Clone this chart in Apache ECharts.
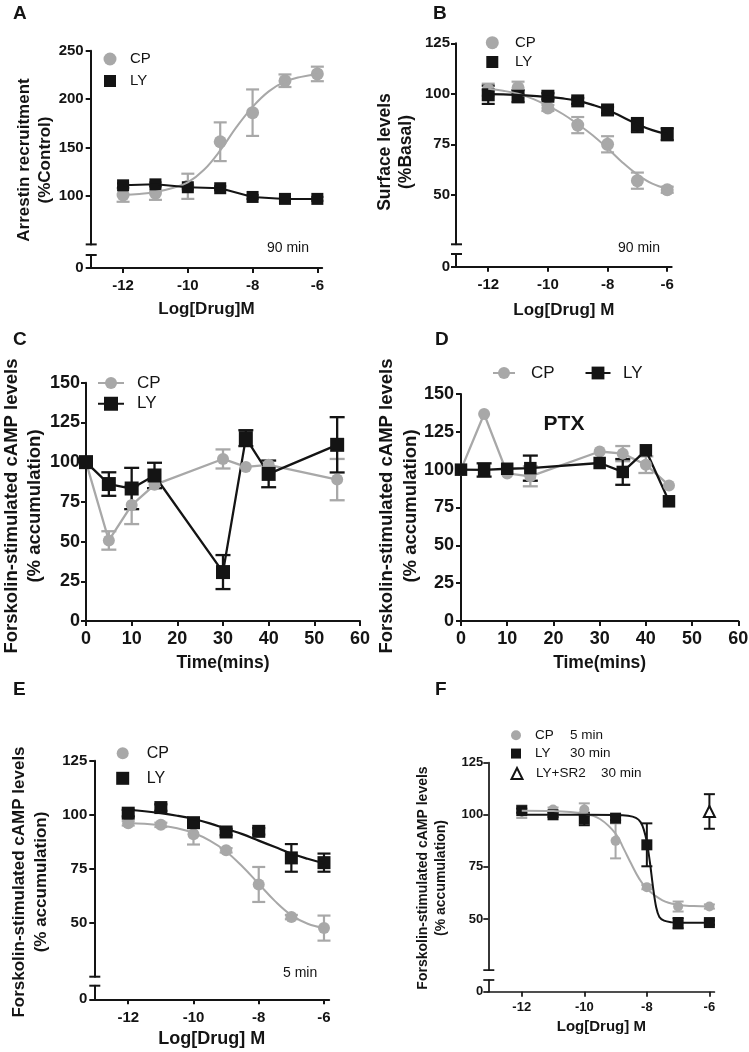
<!DOCTYPE html>
<html><head><meta charset="utf-8">
<script src="https://cdn.jsdelivr.net/npm/echarts@6/dist/echarts.min.js"></script>
<style>html,body{margin:0;padding:0;background:#fff}#c{width:749px;height:1052px}</style>
</head><body><div id="c"></div>
<script>
// ================= DATA =================
const doseX = [-12, -11, -10, -9, -8, -7, -6];
const doseTicks = [-12, -10, -8, -6];
const timeTicksY = [0, 25, 50, 75, 100, 125, 150];

// Panel A : arrestin recruitment, 90 min
const aTicksY = [100, 150, 200, 250];
const aCP = [101, 103, 110, 156, 186, 219, 226];
const aCPErr = [7, 7, 13, 20, 24, 6.5, 7.5];
const aLY = [111, 112, 109, 108, 99, 97, 97];
const aLYErr = [2, 2, 2, 2, 2, 2, 2];
const aCPFitX = [-12, -11.5, -11, -10.5, -10, -9.5, -9, -8.5, -8, -7.5, -7, -6.5, -6];
const aCPFitY = [101, 102, 104, 108, 114, 127, 147, 171, 192, 208, 218, 223, 226];

// Panel B : surface levels, 90 min
const bTicksY = [50, 75, 100, 125];
const bCP = [102, 103, 93, 84.5, 75, 57, 52.5];
const bCPErr = [3, 3, 1.5, 4, 4, 4, 1.5];
const bLY = [99.5, 98.8, 98.8, 96.5, 92, 84.5, 80];
const bLYErr = [4.5, 3, 1.5, 1.5, 1.5, 3.5, 3];
const bFitX = [-12, -11.5, -11, -10.5, -10, -9.5, -9, -8.5, -8, -7.5, -7, -6.5, -6];
const bCPFitY = [102.5, 101.5, 100, 97.5, 94, 90, 85, 79.5, 73, 66, 60, 55.5, 53];
const bLYFitY = [99.8, 99.7, 99.4, 99, 98.5, 97.7, 96.5, 94.5, 92, 88.5, 85, 82, 80];

// Panel C : cAMP time course
const cTime = [0, 5, 10, 15, 30, 35, 40, 55];
const cCP = [100, 50.7, 73, 85.7, 102, 97, 98.3, 89];
const cCPErr = [0, 5.8, 12, 0, 6, 0, 0, 13];
const cLY = [100, 86.2, 83.4, 91.6, 30.8, 115.1, 92.6, 110.9];
const cLYErr = [0, 7.4, 13, 8, 10.7, 5, 8.4, 17.4];

// Panel D : cAMP time course, PTX
const dTime = [0, 5, 10, 15, 30, 35, 40, 45];
const dCP = [100, 136.8, 97.5, 95.6, 112, 110.6, 103.3, 89.6];
const dCPErr = [0, 0, 0, 6.6, 0, 5, 5.5, 0];
const dLY = [100, 99.8, 100.6, 101, 104.4, 98.5, 112.8, 79.1];
const dLYErr = [0, 4.4, 0, 8.3, 0, 8.5, 0, 0];

// Panel E : cAMP dose response, 5 min
const eTicksY = [50, 75, 100, 125];
const eCP = [96, 95.3, 91, 83.5, 67.7, 52.6, 47.5];
const eCPErr = [1, 1, 4.8, 1, 8.1, 1, 5.8];
const eLY = [100.7, 103.3, 96.3, 92, 92.3, 80, 77.8];
const eLYErr = [1.5, 1.5, 1.5, 1.5, 1.5, 6.4, 4.2];
const eFitX = [-12, -11.5, -11, -10.5, -10, -9.5, -9, -8.5, -8, -7.5, -7, -6.5, -6];
const eCPFitY = [96.2, 95.8, 95, 93.7, 91.5, 88, 83, 76, 68, 60, 53.5, 49.5, 47.5];
const eLYFitY = [102.3, 101.6, 100.7, 99.5, 98, 96, 93.5, 91, 88, 85, 82, 79.6, 77.5];

// Panel F : cAMP dose response
const fTicksY = [50, 75, 100, 125];
const fCP = [101.5, 102.5, 102.5, 87.5, 65.3, 56, 56];
const fCPErr = [3, 1, 3, 8.4, 1, 2.4, 1];
const fLY = [102, 100, 98, 98.4, 85.6, 48, 48.3];
const fLYErr = [1, 1, 3, 1, 10.3, 2.5, 1];
const fSRX = [-6];
const fSR = [101.6];
const fSRErr = [8.3];
const fCPFitX = [-12, -11, -10, -9.5, -9, -8.75, -8.5, -8.25, -8, -7.5, -7, -6.5, -6];
const fCPFitY = [102, 101.8, 100.5, 98, 91, 84, 76.5, 69.5, 64.5, 59, 56.8, 56.2, 56];
const fLYFitX = [-12, -10, -9, -8.6, -8.35, -8.2, -8.1, -8, -7.9, -7.8, -7.7, -7.6, -7.45, -7.2, -7, -6];
const fLYFitY = [100, 100, 99.9, 99.5, 98.5, 96.5, 93, 87, 77, 65, 55.5, 51, 49.2, 48.4, 48.2, 48.2];

// ================= STYLE / BUILD =================
const FONT = '"Liberation Sans", Arial, sans-serif';
const GRAY = '#a8a8a8';
const BLACK = '#141414';

const opt = {animation: false, backgroundColor: '#fff', grid: [], xAxis: [], yAxis: [], series: [], legend: [], graphic: []};
const zip = (xs, ys) => xs.map((x, i) => [x, ys[i]]);

function axis(fs, ticks, margin, lw) {
  const a = {
    axisLine: {show: true, onZero: false, lineStyle: {color: BLACK, width: lw || 2}},
    axisTick: {show: true, inside: false, length: 5, lineStyle: {color: BLACK, width: lw || 2}},
    axisLabel: {show: true, margin: margin, color: BLACK, fontFamily: FONT, fontWeight: 'bold', fontSize: fs},
    splitLine: {show: false}
  };
  if (ticks) { a.axisTick.customValues = ticks; a.axisLabel.customValues = ticks; }
  return a;
}
function capLine(x, y, lw) {
  return {type: 'line', silent: true, z: 50, shape: {x1: x - 5, y1: y, x2: x + 6, y2: y}, style: {stroke: BLACK, lineWidth: lw || 2}};
}
function addGrid(l, t, w, h) {
  opt.grid.push({left: l, top: t, width: w, height: h, containLabel: false, outerBoundsMode: 'none'});
  return opt.grid.length - 1;
}
function brokenPanel(c) {
  const gU = addGrid(c.left, c.upTop, c.width, c.upH);
  const gL = addGrid(c.left, c.loTop, c.width, c.loH);
  const xi = opt.xAxis.length, yi = opt.yAxis.length;
  opt.xAxis.push({type: 'value', gridIndex: gU, min: c.xMin, max: c.xMax, show: false});
  opt.xAxis.push(Object.assign({type: 'value', gridIndex: gL, min: c.xMin, max: c.xMax,
    name: c.xName, nameLocation: 'middle', nameGap: c.nameGap,
    nameTextStyle: {fontFamily: FONT, fontWeight: 'bold', fontSize: c.nameFs, color: BLACK}},
    axis(c.tickFs, doseTicks, c.xMargin, c.lw)));
  opt.yAxis.push(Object.assign({type: 'value', gridIndex: gU, min: c.upMin, max: c.upMax}, axis(c.tickFs, c.yTicks, c.yMargin, c.lw)));
  opt.yAxis.push(Object.assign({type: 'value', gridIndex: gL, min: 0, max: c.loMax}, axis(c.tickFs, [0], c.yMargin, c.lw)));
  opt.graphic.push(capLine(c.left, c.upTop + c.upH, c.lw), capLine(c.left, c.loTop, c.lw));
  return {x: xi, y: yi};
}
function timePanel(c) {
  const g = addGrid(c.left, c.top, c.width, c.height);
  const xi = opt.xAxis.length, yi = opt.yAxis.length;
  opt.xAxis.push(Object.assign({type: 'value', gridIndex: g, min: 0, max: 60, interval: 10,
    name: 'Time(mins)', nameLocation: 'middle', nameGap: c.nameGap,
    nameTextStyle: {fontFamily: FONT, fontWeight: 'bold', fontSize: c.nameFs, color: BLACK}},
    axis(c.tickFs, null, c.xMargin)));
  opt.yAxis.push(Object.assign({type: 'value', gridIndex: g, min: 0, max: 150, interval: 25}, axis(c.tickFs, timeTicksY, c.yMargin)));
  return {x: xi, y: yi};
}
function errBars(name, ax, xs, ys, es, color, capW, lw) {
  opt.series.push({
    type: 'custom', name: name, xAxisIndex: ax.x, yAxisIndex: ax.y, silent: true, clip: false,
    data: xs.map((x, i) => [x, ys[i], es[i]]),
    encode: {x: 0, y: 1},
    renderItem: function (params, api) {
      const x = api.value(0), y = api.value(1), e = api.value(2);
      if (!e) return null;
      const p1 = api.coord([x, y + e]), p2 = api.coord([x, y - e]);
      const h = capW / 2, st = {stroke: color, lineWidth: lw || 2};
      return {type: 'group', children: [
        {type: 'line', shape: {x1: p1[0], y1: p1[1], x2: p2[0], y2: p2[1]}, style: st},
        {type: 'line', shape: {x1: p1[0] - h, y1: p1[1], x2: p1[0] + h, y2: p1[1]}, style: st},
        {type: 'line', shape: {x1: p2[0] - h, y1: p2[1], x2: p2[0] + h, y2: p2[1]}, style: st}
      ]};
    }
  });
}
function markers(name, ax, xs, ys, symbol, size, color, extra) {
  opt.series.push({
    type: 'scatter', name: name, xAxisIndex: ax.x, yAxisIndex: ax.y, silent: true, clip: false,
    symbol: symbol, symbolSize: size, data: zip(xs, ys),
    itemStyle: Object.assign({color: color, opacity: 1}, extra || {})
  });
}
function curve(name, ax, xs, ys, color, lw, smooth) {
  opt.series.push({
    type: 'line', name: name, xAxisIndex: ax.x, yAxisIndex: ax.y, silent: true, clip: false,
    data: zip(xs, ys), symbol: 'none', smooth: smooth, lineStyle: {color: color, width: lw}
  });
}
function linked(name, ax, xs, ys, color, lw, symbol, size) {
  opt.series.push({
    type: 'line', name: name, xAxisIndex: ax.x, yAxisIndex: ax.y, silent: true, clip: false,
    data: zip(xs, ys), symbol: symbol, symbolSize: size, showSymbol: true, smooth: false,
    lineStyle: {color: color, width: lw}, itemStyle: {color: color, borderWidth: 0, opacity: 1}
  });
}
function legItem(series, label, cx, cy, iconW, iconH, fs, textX, rich) {
  const left = cx - iconW / 2;
  const pad = Math.max(0, textX - (left + iconW) - 5);
  const h = Math.max(iconH, fs);
  opt.legend.push({
    show: true, selectedMode: false, padding: 0, itemGap: 0, orient: 'horizontal',
    left: left, top: cy - h / 2, itemWidth: iconW, itemHeight: iconH,
    data: [series], formatter: function () { return label; },
    textStyle: {color: BLACK, fontFamily: FONT, fontSize: fs, padding: [0, 0, 0, pad], rich: rich}
  });
}
function text(str, x, y, fs, weight, align, extra) {
  opt.graphic.push(Object.assign({type: 'text', x: x, y: y, silent: true, z: 60,
    style: {text: str, fontFamily: FONT, fontSize: fs, fontWeight: weight, fill: BLACK,
      align: align || 'left', verticalAlign: 'middle'}}, extra || {}));
}
function vtitle(str, x, y, fs, lh) {
  opt.graphic.push({type: 'text', x: x, y: y, rotation: Math.PI / 2, silent: true, z: 60,
    style: {text: str, fontFamily: FONT, fontSize: fs, fontWeight: 'bold', fill: BLACK,
      align: 'center', verticalAlign: 'middle', lineHeight: lh}});
}

// ---------- Panel A ----------
const axA = brokenPanel({left: 90.7, width: 231.5, upTop: 50.7, upH: 193.7, upMin: 50, upMax: 250, yTicks: aTicksY,
  loTop: 255, loH: 13, loMax: 13.4, xMin: -13, xMax: -5.85, tickFs: 15, xMargin: 10, yMargin: 7,
  xName: 'Log[Drug]M', nameFs: 17, nameGap: 33});
curve('A-CP-fit', axA, aCPFitX, aCPFitY, GRAY, 2, 0.4);
errBars('A-CP-err', axA, doseX, aCP, aCPErr, GRAY, 13, 2.2);
markers('A-CP', axA, doseX, aCP, 'circle', 13, GRAY);
curve('A-LY-line', axA, doseX, aLY, BLACK, 2, false);
errBars('A-LY-err', axA, doseX, aLY, aLYErr, BLACK, 12, 2.2);
markers('A-LY', axA, doseX, aLY, 'rect', 12, BLACK);
legItem('A-CP', 'CP', 110, 59, 13, 13, 15, 130);
legItem('A-LY', 'LY', 110, 81, 12, 12, 15, 130);
text('90 min', 267, 248, 14, 'normal');
vtitle('Arrestin recruitment\n(%Control)', 35, 160, 17, 21);
text('A', 13, 14, 19, 'bold');

// ---------- Panel B ----------
const axB = brokenPanel({left: 456, width: 215.7, upTop: 43.3, upH: 201, upMin: 25.5, upMax: 125, yTicks: bTicksY,
  loTop: 254, loH: 12.7, loMax: 6.3, xMin: -13.08, xMax: -5.85, tickFs: 15, xMargin: 11, yMargin: 6,
  xName: 'Log[Drug] M', nameFs: 17, nameGap: 35});
curve('B-CP-fit', axB, bFitX, bCPFitY, GRAY, 2, 0.4);
errBars('B-CP-err', axB, doseX, bCP, bCPErr, GRAY, 13, 2.2);
markers('B-CP', axB, doseX, bCP, 'circle', 13, GRAY);
curve('B-LY-fit', axB, bFitX, bLYFitY, BLACK, 2.2, 0.4);
errBars('B-LY-err', axB, doseX, bLY, bLYErr, BLACK, 13, 2.2);
markers('B-LY', axB, doseX, bLY, 'rect', 13, BLACK);
legItem('B-CP', 'CP', 492.3, 42.7, 13, 13, 15, 515);
legItem('B-LY', 'LY', 492.3, 62, 12, 12, 15, 515);
text('90 min', 618, 248, 14, 'normal');
vtitle('Surface levels\n(%Basal)', 396, 152, 17.5, 21);
text('B', 433, 14, 19, 'bold');

// ---------- Panel C ----------
const axC = timePanel({left: 86, top: 382.7, width: 274, height: 238.3, tickFs: 18, xMargin: 9, yMargin: 6, nameFs: 17.5, nameGap: 33});
errBars('C-CP-err', axC, cTime, cCP, cCPErr, GRAY, 15, 2.3);
linked('C-CP', axC, cTime, cCP, GRAY, 2.3, 'circle', 12);
errBars('C-LY-err', axC, cTime, cLY, cLYErr, BLACK, 15, 2.3);
linked('C-LY', axC, cTime, cLY, BLACK, 2.3, 'rect', 14);
legItem('C-CP', 'CP', 110, 383, 26, 15, 17, 136);
legItem('C-LY', 'LY', 110, 404, 26, 17.5, 17, 136);
vtitle('Forskolin-stimulated cAMP levels\n(% accumulation)', 23.5, 506, 18.5, 23);
text('C', 13, 340, 19, 'bold');

// ---------- Panel D ----------
const axD = timePanel({left: 461, top: 394, width: 277.3, height: 227, tickFs: 18, xMargin: 9, yMargin: 7, nameFs: 17.5, nameGap: 33});
errBars('D-CP-err', axD, dTime, dCP, dCPErr, GRAY, 15, 2.3);
linked('D-CP', axD, dTime, dCP, GRAY, 2.3, 'circle', 12);
errBars('D-LY-err', axD, dTime, dLY, dLYErr, BLACK, 15, 2.3);
linked('D-LY', axD, dTime, dLY, BLACK, 2.3, 'rect', 12.5);
legItem('D-CP', 'CP', 503, 373, 22, 15, 17, 530);
legItem('D-LY', 'LY', 597, 373, 25, 16, 17, 622);
text('PTX', 564, 424, 21, 'bold', 'center');
vtitle('Forskolin-stimulated cAMP levels\n(% accumulation)', 399, 506, 18.5, 24);
text('D', 435, 340, 19, 'bold');

// ---------- Panel E ----------
const axE = brokenPanel({left: 94.3, width: 234.9, upTop: 760.7, upH: 216, upMin: 25, upMax: 125, yTicks: eTicksY,
  loTop: 985.7, loH: 13.6, loMax: 6.3, xMin: -13.04, xMax: -5.84, tickFs: 15, xMargin: 11, yMargin: 7,
  xName: 'Log[Drug] M', nameFs: 18, nameGap: 31});
curve('E-CP-fit', axE, eFitX, eCPFitY, GRAY, 2, 0.4);
errBars('E-CP-err', axE, doseX, eCP, eCPErr, GRAY, 13, 2.2);
markers('E-CP', axE, doseX, eCP, 'circle', 12, GRAY);
curve('E-LY-fit', axE, eFitX, eLYFitY, BLACK, 2.2, 0.4);
errBars('E-LY-err', axE, doseX, eLY, eLYErr, BLACK, 13, 2.2);
markers('E-LY', axE, doseX, eLY, 'rect', 13, BLACK);
legItem('E-CP', 'CP', 122.7, 753.3, 12, 12, 16, 146.7);
legItem('E-LY', 'LY', 122.7, 778.3, 13, 13, 16, 146.7);
text('5 min', 283, 973, 14, 'normal');
vtitle('Forskolin-stimulated cAMP levels\n(% accumulation)', 30, 882, 17, 22);
text('E', 13, 690, 19, 'bold');

// ---------- Panel F ----------
const axF = brokenPanel({left: 488.3, width: 226.1, upTop: 762.7, upH: 207.4, upMin: 25.5, upMax: 125, yTicks: fTicksY,
  loTop: 980, loH: 11.7, loMax: 5.6, xMin: -13.07, xMax: -5.84, tickFs: 13, xMargin: 9, yMargin: 5, lw: 1.7,
  xName: 'Log[Drug] M', nameFs: 15, nameGap: 28});
curve('F-CP-fit', axF, fCPFitX, fCPFitY, GRAY, 2, 0.4);
errBars('F-CP-err', axF, doseX, fCP, fCPErr, GRAY, 11, 2);
markers('F-CP', axF, doseX, fCP, 'circle', 10, GRAY);
curve('F-LY-fit', axF, fLYFitX, fLYFitY, BLACK, 2, 0.3);
errBars('F-LY-err', axF, doseX, fLY, fLYErr, BLACK, 11, 2);
markers('F-LY', axF, doseX, fLY, 'rect', 11, BLACK);
errBars('F-SR-err', axF, fSRX, fSR, fSRErr, BLACK, 11, 2);
markers('F-SR', axF, fSRX, fSR, 'triangle', 11, '#fff', {borderColor: BLACK, borderWidth: 2});
const fRich = {a: {width: 35, fontSize: 13.5, fontFamily: FONT, color: BLACK}, w: {width: 65, fontSize: 13.5, fontFamily: FONT, color: BLACK}, b: {fontSize: 13.5, fontFamily: FONT, color: BLACK}};
legItem('F-CP', '{a|CP}{b|5 min}', 516, 735, 10, 10, 13.5, 535, fRich);
legItem('F-LY', '{a|LY}{b|30 min}', 516, 753.3, 10, 10, 13.5, 535, fRich);
legItem('F-SR', '{w|LY+SR2}{b|30 min}', 516, 773.3, 11, 11, 13.5, 535, fRich);
vtitle('Forskolin-stimulated cAMP levels\n(% accumulation)', 432, 878, 14, 18.5);
text('F', 435, 690, 19, 'bold');

const chart = echarts.init(document.getElementById('c'), null, {renderer: 'canvas'});
chart.setOption(opt);
</script></body></html>
